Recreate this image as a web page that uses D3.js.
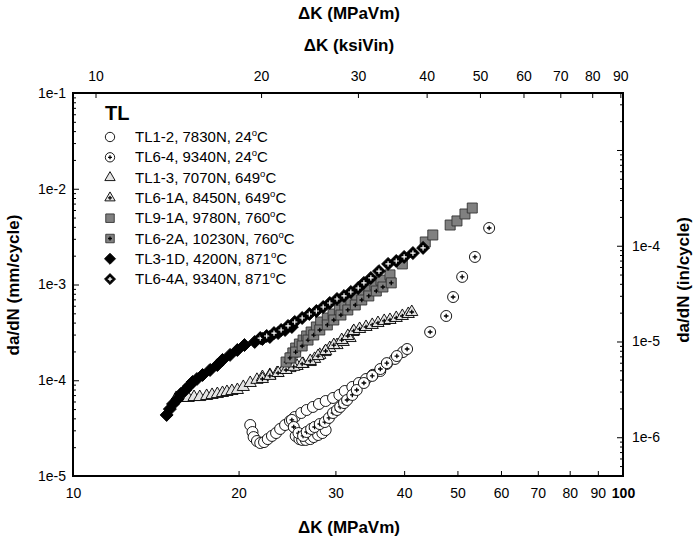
<!DOCTYPE html>
<html>
<head>
<meta charset="utf-8">
<script src="https://cdn.jsdelivr.net/npm/d3@7"></script>
<style>
  body { margin: 0; background: #fff; }
  text { font-family: "Liberation Sans", Arial, sans-serif; }
</style>
</head>
<body>
<svg width="694" height="542"></svg>
<script>
// crack growth data: dK in MPa*sqrt(m), da/dN in mm/cycle
const tl12K = [21.0,21.2,21.3,21.6,21.9,22.25,22.6,23.0,23.4,23.8,24.3,24.8,25.3,26.0,26.6,27.3,28.0,28.8,29.7,30.5,31.2,32.2,33.1,34.1,35.1,36.2,37.2,38.5,39.8,25.4,25.8,26.1,26.5,27.0,27.4,27.9,28.4,28.8];
const tl12Rate = [3.41e-5,2.88e-5,2.55e-5,2.32e-5,2.21e-5,2.26e-5,2.43e-5,2.62e-5,2.81e-5,3.10e-5,3.41e-5,3.75e-5,4.13e-5,4.55e-5,4.89e-5,5.26e-5,5.65e-5,6.07e-5,6.53e-5,7.02e-5,7.72e-5,8.51e-5,9.36e-5,1.03e-4,1.14e-4,1.25e-4,1.48e-4,1.67e-4,1.97e-4,2.62e-5,2.43e-5,2.38e-5,2.38e-5,2.43e-5,2.55e-5,2.68e-5,2.81e-5,3.02e-5];
const tl64K = [25.0,25.2,25.7,26.2,26.6,27.1,27.5,28.1,28.7,29.2,29.7,30.2,30.6,31.1,31.5,32.2,32.8,33.8,35.0,36.2,37.2,38.8,40.5,44.6,47.7,49.1,51.0,53.8,57.1];
const tl64Rate = [3.85e-5,3.25e-5,2.81e-5,2.62e-5,2.88e-5,3.10e-5,3.25e-5,3.49e-5,3.66e-5,4.04e-5,4.55e-5,4.89e-5,5.26e-5,5.78e-5,6.22e-5,7.02e-5,7.91e-5,9.36e-5,1.11e-4,1.31e-4,1.51e-4,1.79e-4,2.12e-4,3.19e-4,4.69e-4,7.40e-4,1.20e-3,1.94e-3,3.89e-3];
const tl13K = [15.4,15.8,16.2,16.6,17.0,17.5,17.9,18.3,18.7,19.05,19.45,19.9,20.4,21.0,21.6,22.1,22.8,23.5,24.1,24.8,25.55,26.2,27.0,27.5,28.1,28.7,29.3,30.2,31.0,31.9,32.3];
const tl13Rate = [6.53e-5,6.53e-5,6.53e-5,6.68e-5,6.68e-5,6.85e-5,7.02e-5,7.18e-5,7.36e-5,7.54e-5,7.72e-5,7.91e-5,8.51e-5,9.36e-5,1.01e-4,1.08e-4,1.135e-4,1.19e-4,1.28e-4,1.34e-4,1.41e-4,1.48e-4,1.55e-4,1.67e-4,1.84e-4,1.97e-4,2.17e-4,2.33e-4,2.51e-4,2.76e-4,3.19e-4];
const tl61aK = [22.1,22.8,23.6,24.4,25.2,26.1,27.0,27.9,28.8,29.8,30.8,31.6,32.4,33.2,34.1,35.0,35.85,36.8,37.7,38.7,39.7,40.7,41.3];
const tl61aRate = [1.03e-4,1.11e-4,1.19e-4,1.28e-4,1.38e-4,1.48e-4,1.59e-4,1.79e-4,2.02e-4,2.33e-4,2.63e-4,2.90e-4,3.27e-4,3.43e-4,3.60e-4,3.78e-4,3.96e-4,4.16e-4,4.26e-4,4.47e-4,4.69e-4,4.92e-4,5.16e-4];
const tl91aK = [24.9,25.1,25.4,25.8,26.2,26.6,27.1,27.7,28.2,29.0,29.7,30.5,31.2,32.0,32.8,33.7,34.5,35.4,36.3,37.7,39.7,43.7,45.1,48.5,49.9,51.6,53.2];
const tl91aRate = [1.71e-4,1.93e-4,2.17e-4,2.39e-4,2.63e-4,2.90e-4,3.19e-4,3.60e-4,4.06e-4,4.47e-4,4.92e-4,5.42e-4,5.96e-4,6.56e-4,7.23e-4,7.96e-4,8.77e-4,9.89e-4,1.11e-3,1.26e-3,1.64e-3,2.78e-3,3.29e-3,4.18e-3,4.61e-3,5.45e-3,6.29e-3];
const tl62aK = [24.4,24.8,25.4,26.1,26.75,27.4,28.1,29.0,29.8,30.7,31.6,32.6,33.5,34.5,35.6,36.6,37.9];
const tl62aRate = [1.55e-4,1.71e-4,1.97e-4,2.28e-4,2.63e-4,2.97e-4,3.35e-4,3.78e-4,4.26e-4,4.80e-4,5.42e-4,6.11e-4,6.89e-4,7.59e-4,8.55e-4,9.42e-4,1.04e-3];
const tl31dK = [14.8,15.0,15.2,15.5,15.7,16.0,16.25,16.5,16.8,17.2,17.75,18.3,18.7,19.3,19.9,20.5,21.4,22.1,22.8,23.6,24.3,25.0];
const tl31dRate = [4.34e-5,5.0e-5,5.65e-5,6.37e-5,7.18e-5,7.9e-5,8.7e-5,9.6e-5,1.03e-4,1.135e-4,1.28e-4,1.44e-4,1.63e-4,1.84e-4,2.07e-4,2.33e-4,2.51e-4,2.70e-4,2.83e-4,3.11e-4,3.35e-4,3.6e-4];
const tl64aK = [21.9,22.5,23.2,23.9,24.6,25.3,26.1,26.9,27.7,28.5,29.3,30.2,31.1,32.0,33.0,33.8,34.8,36.0,37.4,38.7,40.0,41.5,43.3];
const tl64aRate = [2.76e-4,2.90e-4,3.11e-4,3.35e-4,3.69e-4,4.06e-4,4.47e-4,4.92e-4,5.29e-4,5.82e-4,6.41e-4,7.06e-4,7.59e-4,8.35e-4,9.19e-4,1.04e-3,1.17e-3,1.38e-3,1.64e-3,1.76e-3,1.94e-3,2.13e-3,2.41e-3];

// legend text, split so the degree sign can be raised
const seriesNames = ["TL1-2, 7830N, 24", "TL6-4, 9340N, 24", "TL1-3, 7070N, 649", "TL6-1A, 8450N, 649",
  "TL9-1A, 9780N, 760", "TL6-2A, 10230N, 760", "TL3-1D, 4200N, 871", "TL6-4A, 9340N, 871"];

// tick values
const bottomTicks = [10, 20, 30, 40, 50, 60, 70, 80, 90, 100];
const topTicks = [10, 20, 30, 40, 50, 60, 70, 80, 90];
const leftMajor = [1e-5, 1e-4, 1e-3, 1e-2, 1e-1];
const rightMajor = [1e-6, 1e-5, 1e-4, 1e-3];
const rightLabelled = [1e-6, 1e-5, 1e-4];

const ksiToMpa = 1.0988; // 1 ksi*sqrt(in) in MPa*sqrt(m)
const inToMm = 25.4;

const series = [
  { k: tl12K, r: tl12Rate, shape: "circle", fill: "#fff", plus: null },
  { k: tl64K, r: tl64Rate, shape: "circle", fill: "#fff", plus: "#000" },
  { k: tl13K, r: tl13Rate, shape: "triangle", fill: "#e4e4e4", plus: null },
  { k: tl61aK, r: tl61aRate, shape: "triangle", fill: "#e4e4e4", plus: "#000" },
  { k: tl91aK, r: tl91aRate, shape: "square", fill: "#808080", plus: null },
  { k: tl62aK, r: tl62aRate, shape: "square", fill: "#808080", plus: "#000" },
  { k: tl31dK, r: tl31dRate, shape: "diamond", fill: "#000", plus: null },
  { k: tl64aK, r: tl64aRate, shape: "diamond", fill: "#000", plus: "#fff" }
];

const svg = d3.select("svg");

// plot box
const boxLeft = 73, boxRight = 623, boxTop = 93, boxBottom = 476;

const x = d3.scaleLog().domain([10, 100]).range([boxLeft, boxRight]);
const xTop = d3.scaleLog().domain([10 / ksiToMpa, 100 / ksiToMpa]).range([boxLeft, boxRight]);
const y = d3.scaleLog().domain([1e-5, 1e-1]).range([boxBottom, boxTop]);
const yRight = d3.scaleLog().domain([1e-5 / inToMm, 1e-1 / inToMm]).range([boxBottom, boxTop]);

// minor log ticks inside a domain
const minorTicks = (scale) => {
  const [a, b] = scale.domain();
  const out = [];
  for (let e = Math.floor(Math.log10(a)); e <= Math.ceil(Math.log10(b)); e++) {
    for (let m = 2; m <= 9; m++) {
      const v = m * Math.pow(10, e);
      if (v >= a && v <= b) out.push(v);
    }
  }
  return out;
};
const expFormat = (d) => "1e" + Math.round(Math.log10(d));

// bottom axis
const gBottom = svg.append("g")
  .attr("transform", `translate(0,${boxBottom})`)
  .call(d3.axisBottom(x).tickValues(bottomTicks).tickSize(-5).tickPadding(12).tickFormat(d3.format("d")));
gBottom.selectAll("text").filter((d) => d === 100).attr("font-weight", "bold");

// top axis in ksi*sqrt(in)
svg.append("g")
  .attr("transform", `translate(0,${boxTop})`)
  .call(d3.axisTop(xTop).tickValues(topTicks).tickSize(-5).tickPadding(12).tickFormat(d3.format("d")));

// left axis
svg.append("g")
  .attr("transform", `translate(${boxLeft},0)`)
  .call(d3.axisLeft(y).tickValues(leftMajor).tickSize(-6).tickPadding(7).tickFormat(expFormat));
svg.append("g")
  .attr("transform", `translate(${boxLeft},0)`)
  .call(d3.axisLeft(y).tickValues(minorTicks(y)).tickSize(-3).tickFormat(""));

// right axis in in/cycle
svg.append("g")
  .attr("transform", `translate(${boxRight},0)`)
  .call(d3.axisRight(yRight).tickValues(rightMajor).tickSize(-6).tickPadding(9)
    .tickFormat((d) => (rightLabelled.includes(d) ? expFormat(d) : "")));
svg.append("g")
  .attr("transform", `translate(${boxRight},0)`)
  .call(d3.axisRight(yRight).tickValues(minorTicks(yRight)).tickSize(-3).tickFormat(""));

svg.selectAll(".domain").remove();
svg.selectAll(".tick line").attr("stroke", "#000").attr("stroke-width", 1);
svg.selectAll(".tick text").attr("font-size", 14).attr("fill", "#000")
  .attr("font-family", "'Liberation Sans', Arial, sans-serif");

// frame
svg.append("rect")
  .attr("x", boxLeft).attr("y", boxTop)
  .attr("width", boxRight - boxLeft).attr("height", boxBottom - boxTop)
  .attr("fill", "none").attr("stroke", "#000").attr("stroke-width", 2);

// axis titles
const title = (txt, tx, ty, rot) => svg.append("text")
  .attr("transform", `translate(${tx},${ty}) rotate(${rot})`)
  .attr("text-anchor", "middle")
  .attr("font-size", 17).attr("font-weight", "bold")
  .text(txt);
title("\u0394K (MPaVm)", 349, 19, 0);
title("\u0394K (ksiVin)", 349, 51, 0);
title("\u0394K (MPaVm)", 349, 533, 0);
title("da/dN (mm/cycle)", 19, 285, -90);
title("da/dN (in/cycle)", 689, 280, -90);

// marker drawing
const shapePath = (shape, s) => {
  if (shape === "circle") return d3.symbol(d3.symbolCircle, 95 * s * s)();
  if (shape === "triangle") return d3.symbol(d3.symbolTriangle, 64 * s * s)();
  if (shape === "square") return d3.symbol(d3.symbolSquare, 100 * s * s)();
  return d3.symbol(d3.symbolSquare, 84 * s * s)();
};
const drawMarker = (g, sr, s) => {
  g.append("path")
    .attr("d", shapePath(sr.shape, s))
    .attr("transform", sr.shape === "diamond" ? "rotate(45)" : null)
    .attr("fill", sr.fill)
    .attr("stroke", sr.shape === "square" ? "#333" : "#000")
    .attr("stroke-width", 0.9);
  if (sr.plus) {
    const p = (sr.plus === "#fff" ? 2.6 : 2.3) * s;
    g.append("path")
      .attr("d", `M${-p},0H${p}M0,${-p}V${p}`)
      .attr("stroke", sr.plus)
      .attr("stroke-width", sr.plus === "#fff" ? 1.2 : 1.3);
  }
};

// data points
const plot = svg.append("g");
series.forEach((sr) => {
  plot.append("g")
    .selectAll("g")
    .data(d3.zip(sr.k, sr.r))
    .join("g")
    .attr("transform", (d) => `translate(${x(d[0])},${y(d[1])})`)
    .each(function () { drawMarker(d3.select(this), sr, 1); });
});

// legend
const legend = svg.append("g");
legend.append("text")
  .attr("x", 105).attr("y", 120)
  .attr("font-size", 20).attr("font-weight", "bold")
  .text("TL");
series.forEach((sr, i) => {
  const rowY = 137 + i * 20.3;
  const m = legend.append("g").attr("transform", `translate(110,${rowY})`);
  drawMarker(m, sr, 0.85);
  const t = legend.append("text")
    .attr("x", 135).attr("y", rowY + 5)
    .attr("font-size", 15);
  t.append("tspan").text(seriesNames[i]);
  t.append("tspan").attr("font-size", 9.5).attr("dy", -6).text("o");
  t.append("tspan").attr("dy", 6).text("C");
});
</script>
</body>
</html>
